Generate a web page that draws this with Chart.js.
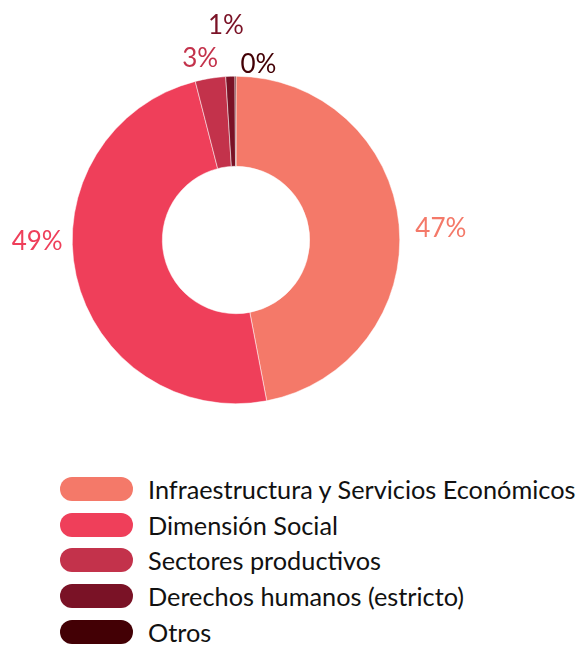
<!DOCTYPE html>
<html>
<head>
<meta charset="utf-8">
<script src="https://cdn.jsdelivr.net/npm/chart.js@4"></script>
<style>
  body { margin: 0; background: #fff; font-family: Lato, sans-serif; }
  #wrap { position: relative; width: 581px; height: 645px; }
  #pie { position: absolute; left: 0; top: 0; }
  #legend { position: absolute; left: 60px; top: 471px; list-style: none; margin: 0; padding: 0; }
  #legend li { height: 35.7px; display: flex; align-items: center; white-space: nowrap; }
  #legend .box { width: 73px; height: 24px; border-radius: 12px; margin-right: 15px; flex: none; }
  #legend .txt { font-size: 25.3px; color: #111; }
</style>
</head>
<body>
<div id="wrap">
  <canvas id="pie" width="581" height="450"></canvas>
  <ul id="legend"></ul>
</div>
<script>
document.addEventListener("DOMContentLoaded", function () {
  // data (percent of total)
  const categories = [
    "Infraestructura y Servicios Económicos",
    "Dimensión Social",
    "Sectores productivos",
    "Derechos humanos (estricto)",
    "Otros",
  ];
  const shares = [47.0, 49.0, 3.0, 0.9, 0.1];
  const colors = ["#f47969", "#ef3f5a", "#c3324b", "#7a1226", "#430005"];

  // label placement tweaks (px) relative to the radial anchor
  const labelNudge = [[2, 8], [0, -43], [-4, 20], [-3, -11], [23, 28]];

  const pctLabels = {
    id: "pctLabels",
    afterDatasetsDraw(chart) {
      const ctx = chart.ctx;
      const meta = chart.getDatasetMeta(0);
      ctx.save();
      ctx.font = "26px Lato";
      ctx.textAlign = "center";
      ctx.textBaseline = "middle";
      meta.data.forEach(function (arc, i) {
        const mid = (arc.startAngle + arc.endAngle) / 2;
        const r = arc.outerRadius + 40;
        const x = arc.x + Math.cos(mid) * r + labelNudge[i][0];
        const y = arc.y + Math.sin(mid) * r + labelNudge[i][1];
        ctx.fillStyle = colors[i];
        ctx.fillText(Math.round(shares[i]) + "%", x, y);
      });
      ctx.restore();
    },
  };

  const chart = new Chart(document.getElementById("pie"), {
    type: "doughnut",
    data: {
      labels: categories,
      datasets: [
        {
          data: shares,
          backgroundColor: colors,
          borderColor: "#fff",
          borderWidth: 0.5,
        },
      ],
    },
    options: {
      responsive: false,
      animation: false,
      cutout: "45%",
      layout: { padding: { left: 72, right: 181, top: 76, bottom: 46 } },
      plugins: {
        legend: { display: false },
        tooltip: { enabled: false },
      },
    },
    plugins: [pctLabels],
  });

  // html legend built from the chart's own legend items
  const ul = document.getElementById("legend");
  chart.options.plugins.legend.labels.generateLabels(chart).forEach(function (item) {
    const li = document.createElement("li");
    const box = document.createElement("span");
    box.className = "box";
    box.style.background = item.fillStyle;
    const txt = document.createElement("span");
    txt.className = "txt";
    txt.textContent = item.text;
    li.appendChild(box);
    li.appendChild(txt);
    ul.appendChild(li);
  });
});
</script>
</body>
</html>
